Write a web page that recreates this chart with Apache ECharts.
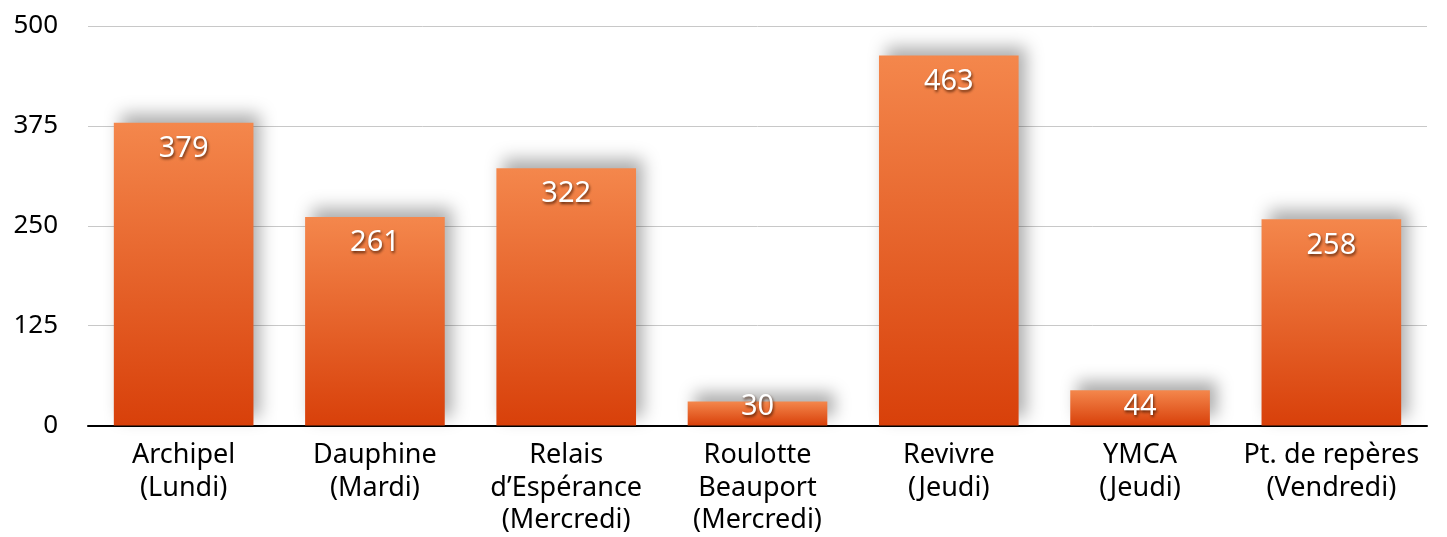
<!DOCTYPE html>
<html><head><meta charset="utf-8">
<script src="https://cdn.jsdelivr.net/npm/echarts@6/dist/echarts.min.js"></script>
<style>html,body{margin:0;padding:0;background:#fff}#c{width:1447px;height:537px}</style>
</head><body><div id="c"></div>
<script>
const categories = ["Archipel\n(Lundi)", "Dauphine\n(Mardi)", "Relais\nd’Espérance\n(Mercredi)", "Roulotte\nBeauport\n(Mercredi)", "Revivre\n(Jeudi)", "YMCA\n(Jeudi)", "Pt. de repères\n(Vendredi)"];
const values = [379, 261, 322, 30, 463, 44, 258];
const yTicks = [0, 125, 250, 375, 500];
const FONT = "'Noto Sans', sans-serif";
const LABEL_H = 30, LABEL_DIST = 11, LABEL_MIN_GAP = 4;
const chart = echarts.init(document.getElementById('c'));
function build(dataItems) {
  return {
    animation: false,
    grid: {left: 88, right: 20, top: 26, bottom: 109, containLabel: false},
    xAxis: {
      type: 'category', data: categories,
      axisLine: {lineStyle: {color: '#000', width: 2}},
      axisTick: {show: false},
      axisLabel: {color: '#000', fontSize: 27, fontFamily: FONT, lineHeight: 32.5, margin: 14, interval: 0}
    },
    yAxis: {
      type: 'value', min: 0, max: 500, interval: 125,
      axisLine: {show: false}, axisTick: {show: false},
      splitLine: {lineStyle: {color: '#c8c8c8', width: 1}},
      axisLabel: {color: '#000', fontSize: 26, fontFamily: FONT, margin: 30,
        formatter: v => yTicks.includes(v) ? String(v) : ''}
    },
    series: [{
      type: 'bar', data: dataItems, barCategoryGap: '27%',
      itemStyle: {
        color: new echarts.graphic.LinearGradient(0, 0, 0, 1, [
          {offset: 0, color: '#F4874C'}, {offset: 1, color: '#D8400A'}]),
        shadowColor: 'rgba(0,0,0,0.32)', shadowBlur: 16, shadowOffsetX: 7, shadowOffsetY: -9
      },
      label: {
        show: true, position: 'insideTop', distance: LABEL_DIST, color: '#fff', fontSize: 29, fontFamily: FONT,
        lineHeight: LABEL_H,
        textShadowColor: 'rgba(60,20,0,0.8)', textShadowBlur: 3, textShadowOffsetX: 1, textShadowOffsetY: 2
      }
    }]
  };
}
chart.setOption(build(values));
// keep labels of short bars from dropping below the axis
const y0 = chart.convertToPixel({yAxisIndex: 0}, 0);
const items = values.map(v => {
  const h = y0 - chart.convertToPixel({yAxisIndex: 0}, v);
  const d = Math.min(LABEL_DIST, h - LABEL_H - LABEL_MIN_GAP);
  return {value: v, label: {distance: d}};
});
chart.setOption(build(items));
</script></body></html>
